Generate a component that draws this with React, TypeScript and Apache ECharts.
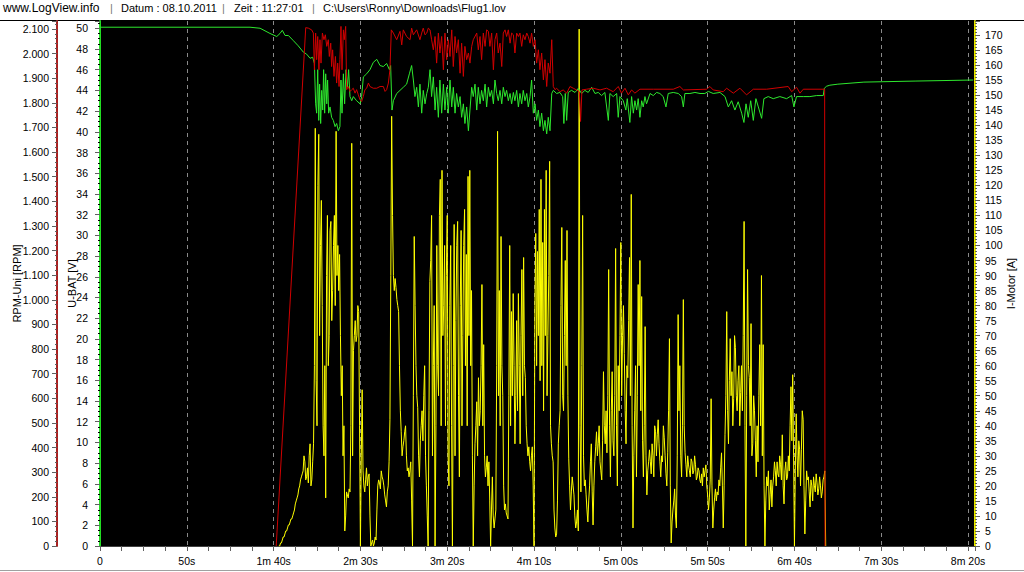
import React, { useEffect, useRef } from "react";
import * as echarts from "echarts";

// ---- header texts ----
const headerSite = "www.LogView.info";
const headerDate = "Datum : 08.10.2011";
const headerTime = "Zeit : 11:27:01";
const headerFile = "C:\\Users\\Ronny\\Downloads\\Flug1.lov";

// ---- axis names ----
const rpmName = "RPM-Uni [RPM]";
const voltName = "U-BAT [V]";
const currentName = "I-Motor [A]";

// ---- I-Motor [A], two readings per second starting at 103 s ----
const currentStart = 103;
const currentStep = 0.5;
const current = [
  0, 0, 1, 1, 2, 3, 3, 4, 5, 5, 6, 7, 7, 8, 9, 9, 10, 11, 12, 14,
  15, 16, 17, 19, 20, 22, 23, 24, 25, 30, 28, 22, 23, 26, 21, 30, 34, 20, 22, 28,
  34, 60, 139, 55, 40, 120, 137, 70, 100, 115, 80, 40, 30, 60, 16, 90, 110, 60, 70, 105,
  108, 75, 85, 100, 110, 80, 138, 90, 100, 85, 97, 70, 50, 60, 30, 40, 5, 10, 18, 17,
  16, 19, 18, 40, 134, 30, 65, 70, 75, 68, 70, 80, 78, 40, 0, 30, 52, 25, 20, 18,
  22, 26, 20, 23, 24, 10, 0, 1, 2, 0, 1, 3, 2, 12, 20, 22, 21, 19, 25, 23,
  22, 20, 17, 15, 13, 18, 20, 28, 42, 90, 143, 110, 90, 85, 89, 86, 82, 80, 78, 60,
  45, 38, 30, 33, 35, 38, 40, 30, 25, 26, 23, 25, 28, 15, 0, 50, 103, 80, 60, 50,
  46, 30, 23, 35, 40, 45, 35, 50, 60, 30, 20, 10, 0, 45, 88, 95, 110, 30, 60, 80,
  0, 40, 100, 60, 50, 110, 122, 40, 125, 70, 80, 100, 40, 90, 110, 30, 20, 80, 100, 40,
  0, 60, 107, 30, 75, 100, 108, 50, 23, 80, 105, 40, 70, 100, 112, 60, 97, 40, 123, 70,
  125, 60, 85, 30, 0, 20, 34, 40, 48, 30, 56, 40, 45, 60, 87, 40, 67, 30, 23, 26,
  30, 20, 28, 15, 0, 12, 23, 10, 6, 9, 12, 60, 138, 50, 85, 40, 103, 60, 50, 20,
  12, 14, 11, 10, 9, 50, 100, 40, 78, 50, 84, 60, 34, 50, 75, 45, 84, 60, 34, 70,
  92, 50, 96, 60, 56, 40, 34, 30, 33, 28, 25, 30, 33, 20, 0, 80, 104, 60, 98, 70,
  112, 55, 122, 60, 101, 45, 112, 70, 125, 50, 70, 90, 128, 40, 34, 30, 28, 12, 6, 3,
  4, 15, 34, 40, 45, 80, 106, 50, 45, 70, 95, 60, 105, 50, 29, 20, 12, 18, 23, 20,
  17, 10, 6, 8, 12, 5, 172, 40, 18, 60, 110, 30, 20, 22, 17, 12, 8, 15, 20, 28,
  34, 18, 7, 20, 28, 33, 38, 30, 34, 40, 28, 25, 22, 35, 58, 40, 34, 45, 31, 50,
  92, 40, 23, 45, 58, 35, 30, 50, 99, 40, 20, 60, 45, 70, 101, 50, 70, 80, 64, 45,
  34, 60, 56, 75, 96, 50, 117, 40, 6, 30, 45, 60, 23, 50, 87, 60, 95, 45, 83, 35,
  23, 40, 73, 30, 17, 25, 28, 32, 28, 24, 34, 30, 23, 40, 38, 30, 37, 42, 34, 28,
  23, 30, 28, 40, 36, 30, 24, 20, 31, 45, 69, 20, 1, 8, 12, 15, 19, 10, 6, 30,
  77, 45, 60, 30, 23, 40, 82, 40, 31, 27, 23, 30, 27, 25, 23, 29, 28, 24, 25, 30,
  27, 22, 23, 26, 25, 22, 21, 24, 20, 26, 23, 25, 27, 20, 17, 12, 16, 22, 49, 20,
  6, 12, 16, 19, 15, 18, 17, 22, 20, 26, 31, 20, 6, 20, 37, 50, 78, 45, 34, 55,
  69, 50, 58, 40, 49, 70, 66, 50, 45, 55, 60, 40, 51, 60, 45, 70, 108, 40, 0, 50,
  92, 60, 56, 40, 74, 30, 34, 50, 45, 35, 23, 40, 28, 50, 67, 40, 90, 30, 67, 20,
  0, 15, 23, 20, 25, 12, 17, 22, 13, 20, 23, 28, 25, 20, 28, 24, 23, 30, 27, 22,
  37, 20, 14, 25, 28, 22, 23, 30, 25, 40, 53, 35, 57, 30, 0, 25, 44, 30, 23, 35,
  32, 20, 32, 45, 42, 20, 4, 15, 25, 22, 23, 18, 13, 22, 20, 15, 23, 20, 18, 24,
  21, 17, 19, 23, 20, 16, 18, 22, 23, 25, 0,
];

// ---- U-BAT [V], [seconds, volts] ----
const voltage: [number, number][] = [
  [0, 50.1], [86.4, 50.1], [92.2, 50.0], [97.9, 49.5], [101.8, 49.2], [103.7, 49.5], [105.0, 49.8],
  [106.6, 49.3], [108.5, 49.3], [111.4, 48.8], [114.2, 48.3], [117.1, 47.7], [119.0, 47.5], [121.0, 47.1],
  [122.5, 47.2], [123.5, 46.6], [124.2, 42.7], [124.8, 41.8], [125.4, 46.0], [126.0, 41.1], [126.5, 44.6],
  [127.1, 40.8], [127.7, 44.0], [128.3, 42.1], [128.8, 46.0], [129.4, 41.8], [130.0, 45.6], [130.6, 42.7],
  [131.1, 45.0], [131.7, 41.8], [132.5, 42.4], [133.4, 41.4], [134.4, 41.1], [135.4, 40.5], [136.3, 40.8],
  [137.3, 40.1], [138.2, 40.5], [138.8, 45.0], [139.4, 41.8], [140.2, 45.6], [140.9, 42.7], [141.7, 46.0],
  [142.5, 44.3], [143.2, 46.0], [144.0, 43.4], [145.0, 43.0], [145.9, 43.4], [147.8, 43.0], [149.8, 42.7],
  [150.7, 43.4], [151.7, 45.3], [153.6, 45.6], [155.5, 46.0], [157.4, 46.7], [159.4, 47.0], [161.3, 46.4],
  [163.2, 46.3], [165.1, 46.6], [166.7, 46.0], [167.4, 46.4], [168.2, 42.1], [169.0, 43.0], [170.9, 43.7],
  [172.8, 44.0], [174.7, 44.3], [176.6, 44.6], [178.2, 45.6], [179.5, 46.4], [180.5, 45.0], [181.4, 43.4],
  [182.4, 44.3], [183.4, 42.4], [184.3, 44.6], [185.3, 41.8], [186.2, 44.0], [187.2, 42.7], [188.2, 43.7],
  [189.1, 44.3], [190.1, 46.0], [191.0, 43.4], [192.0, 45.3], [193.0, 42.1], [193.9, 44.3], [194.9, 41.4],
  [195.8, 45.0], [196.8, 41.8], [197.8, 44.6], [198.7, 42.1], [199.7, 44.3], [200.6, 41.8], [201.6, 45.0],
  [202.6, 42.4], [203.5, 44.3], [204.5, 41.8], [205.4, 43.7], [206.4, 42.4], [207.4, 43.4], [208.3, 41.4],
  [209.3, 42.7], [210.2, 40.8], [211.2, 42.4], [212.2, 40.1], [213.1, 42.1], [214.1, 44.3], [215.0, 43.4],
  [216.0, 44.6], [217.0, 42.1], [217.9, 44.3], [218.9, 42.7], [219.8, 44.0], [220.8, 43.0], [221.8, 44.6],
  [222.7, 42.4], [223.7, 44.3], [224.6, 43.4], [225.6, 44.0], [226.6, 42.7], [227.5, 45.0], [228.5, 43.7],
  [229.4, 43.0], [230.4, 44.0], [231.4, 42.7], [232.3, 44.3], [233.3, 43.4], [234.2, 44.0], [235.2, 43.0],
  [236.2, 43.7], [237.1, 42.7], [238.1, 43.8], [239.0, 43.0], [240.0, 44.0], [241.0, 42.4], [241.9, 43.7],
  [242.9, 42.7], [243.8, 44.0], [244.8, 43.0], [245.8, 43.7], [246.7, 42.4], [247.7, 43.4], [248.6, 45.0],
  [249.6, 41.8], [250.6, 42.7], [251.5, 41.1], [252.5, 42.1], [253.4, 40.5], [254.4, 41.8], [255.4, 40.1],
  [256.3, 41.1], [257.3, 39.8], [258.2, 41.4], [259.2, 40.1], [260.2, 43.7], [261.1, 44.0], [263.0, 43.7],
  [264.9, 43.8], [266.5, 43.4], [267.2, 40.8], [268.0, 43.7], [268.8, 41.1], [269.7, 43.8], [271.6, 44.0],
  [273.6, 43.8], [275.5, 44.2], [277.4, 43.7], [279.3, 44.0], [281.2, 43.8], [283.2, 44.3], [285.1, 43.7],
  [287.0, 43.8], [288.9, 43.5], [290.8, 43.8], [292.8, 41.1], [293.7, 43.7], [295.6, 43.4], [297.6, 43.7],
  [298.5, 41.4], [299.5, 43.4], [301.4, 43.0], [302.9, 42.1], [303.7, 43.2], [305.2, 40.9], [306.2, 43.4],
  [307.2, 41.8], [308.1, 43.0], [309.1, 42.1], [310.0, 43.2], [311.0, 41.4], [312.0, 43.0], [312.9, 42.4],
  [313.9, 43.4], [314.8, 42.7], [316.8, 43.7], [318.7, 43.5], [320.6, 43.8], [322.5, 43.7], [324.4, 43.4],
  [326.0, 42.4], [327.3, 43.7], [330.2, 43.8], [333.1, 43.7], [335.0, 43.4], [336.0, 42.4], [336.9, 43.7],
  [339.8, 43.7], [342.7, 43.8], [345.6, 43.7], [348.4, 43.7], [350.4, 43.9], [353.2, 43.7], [357.1, 43.8],
  [360.0, 43.4], [361.9, 42.4], [363.8, 43.0], [365.7, 42.1], [367.6, 42.9], [369.6, 41.8], [370.9, 40.9],
  [372.1, 42.7], [373.4, 41.4], [374.8, 43.0], [376.3, 41.1], [377.8, 43.2], [379.2, 42.4], [381.1, 41.3],
  [382.4, 43.2], [384.9, 43.4], [387.8, 43.2], [391.6, 43.4], [395.5, 43.2], [398.4, 43.5], [399.7, 42.4],
  [401.2, 43.4], [405.1, 43.4], [408.9, 43.4], [412.8, 43.5], [416.6, 43.5], [417.2, 44.2], [418.5, 44.4],
  [420.4, 44.5], [425, 44.6], [440, 44.8], [470, 44.9], [503, 45.0],
];

// ---- RPM-Uni [RPM], [seconds, rpm] ----
const rpm: [number, number][] = [
  [101.5, 0], [118.5, 2105], [120.0, 2103], [121.9, 2096], [122.9, 2083], [123.5, 1934], [124.2, 2083],
  [124.8, 1975], [125.4, 2069], [126.1, 1934], [126.7, 2056], [127.3, 1961], [128.1, 2083], [129.0, 2056],
  [129.8, 2076], [130.6, 2029], [131.5, 2056], [132.1, 1988], [132.9, 2042], [133.4, 1947], [134.0, 2015],
  [134.8, 1907], [135.6, 1988], [136.3, 1880], [136.9, 1961], [137.7, 1866], [138.2, 1975], [138.8, 2110],
  [139.4, 1934], [140.2, 2096], [140.7, 2056], [141.5, 2110], [142.1, 1853], [143.0, 1866], [144.0, 1846],
  [145.0, 1853], [145.9, 1859], [146.9, 1839], [147.8, 1853], [148.8, 1832], [149.8, 1812], [150.7, 1805],
  [151.7, 1826], [152.6, 1853], [153.6, 1859], [154.6, 1880], [155.5, 1866], [157.4, 1859], [159.4, 1859],
  [161.3, 1866], [163.2, 1866], [164.2, 1846], [165.1, 1853], [166.1, 1880], [167.0, 1934], [167.8, 2096],
  [169.0, 2083], [170.9, 2056], [172.8, 2090], [173.8, 2035], [174.7, 2096], [176.6, 2069], [178.6, 2056],
  [179.5, 2103], [180.5, 2076], [182.4, 2096], [184.3, 2056], [185.3, 2083], [186.2, 2103], [187.2, 2076],
  [188.2, 2083], [189.1, 2103], [190.1, 2096], [191.0, 2056], [192.0, 2015], [193.0, 2069], [193.9, 1961],
  [194.9, 2083], [195.8, 2002], [196.8, 2069], [197.8, 1934], [198.7, 2083], [199.7, 1975], [200.6, 2056],
  [201.6, 1988], [202.6, 2096], [203.5, 1947], [204.5, 2069], [205.4, 2002], [206.4, 2056], [207.4, 1920],
  [208.3, 2042], [209.3, 1907], [210.2, 2029], [211.2, 1975], [212.2, 2002], [213.1, 1961], [214.1, 2029],
  [215.0, 2056], [217.0, 2083], [217.9, 2015], [218.9, 2069], [219.8, 1975], [220.8, 2083], [221.8, 2029],
  [222.7, 2096], [223.7, 2090], [224.6, 2029], [225.6, 2083], [226.6, 1934], [227.5, 2056], [228.5, 2083],
  [229.4, 2002], [230.4, 2042], [231.4, 1947], [232.3, 2083], [233.3, 2096], [234.2, 2069], [235.2, 2096],
  [236.2, 2042], [237.1, 2083], [238.1, 2076], [239.0, 2002], [240.0, 2083], [241.0, 2069], [241.9, 2083],
  [242.9, 2029], [243.8, 2076], [244.8, 2056], [245.8, 2083], [246.7, 2069], [247.7, 2042], [248.6, 2083],
  [249.6, 2029], [250.6, 2056], [251.5, 1961], [252.5, 2015], [253.4, 1934], [254.4, 2002], [255.4, 1893],
  [256.3, 1975], [257.3, 1866], [258.2, 1961], [259.2, 1920], [260.2, 2056], [261.1, 1866], [262.1, 1853],
  [263.0, 1859], [264.9, 1845], [266.8, 1852], [268.8, 1839], [270.7, 1866], [272.6, 1859], [274.5, 1852],
  [276.1, 1845], [276.8, 1724], [277.6, 1852], [280.3, 1855], [284.1, 1859], [288.0, 1852], [291.8, 1859],
  [295.6, 1845], [298.5, 1866], [300.4, 1839], [302.4, 1859], [304.3, 1832], [306.2, 1852], [308.1, 1839],
  [311.0, 1855], [318.7, 1855], [330.2, 1855], [334.0, 1866], [336.0, 1852], [349.4, 1855], [351.3, 1866],
  [353.2, 1852], [359.0, 1845], [360.9, 1859], [364.8, 1839], [368.6, 1859], [372.4, 1832], [376.3, 1855],
  [384.0, 1855], [396.4, 1866], [398.4, 1845], [401.2, 1863], [403.2, 1839], [405.1, 1855], [417.4, 1855],
  [417.6, 0],
];

// ---- axis ranges / tick steps ----
const timeMax = 504;
const timeStep = 50;
const voltMax = 50.7;
const voltStep = 2;
const rpmMax = 2132;
const rpmStep = 100;
const currentMax = 174.7;
const currentTickStep = 5;

const FONT = "'Liberation Sans', Arial, sans-serif";

function fmtTime(v: number): string {
  if (Math.abs(v % timeStep) > 1e-6) return "";
  if (v === 0) return "0";
  const m = Math.floor(v / 60);
  const s = Math.round(v - m * 60);
  if (m === 0) return `${s}s`;
  return `${m}m ${String(s).padStart(2, "0")}s`;
}

function fmtRpm(v: number): string {
  if (Math.abs(v % rpmStep) > 1e-6) return "";
  if (v >= 1000) {
    return `${Math.floor(v / 1000)}.${String(Math.round(v % 1000)).padStart(3, "0")}`;
  }
  return String(v);
}

function fmtStep(step: number) {
  return (v: number) => (Math.abs(v % step) > 1e-6 ? "" : String(Math.round(v)));
}

export default function App() {
  const ref = useRef<HTMLDivElement>(null);

  useEffect(() => {
    if (!ref.current) return;
    const chart = echarts.init(ref.current, null, { renderer: "svg" });

    const currentData = current.map((v, i) => [currentStart + i * currentStep, v]);
    const labelStyle = { color: "#000", fontSize: 10.5, fontFamily: FONT };
    const nameStyle = { color: "#000", fontSize: 11, fontFamily: FONT };
    const tickGray = "#606060";

    const option: any = {
      animation: false,
      backgroundColor: "#ffffff",
      textStyle: { fontFamily: FONT },
      grid: {
        left: 100,
        right: 49,
        top: 21,
        bottom: 26,
        show: true,
        backgroundColor: "#000000",
        borderWidth: 0,
        containLabel: false,
        outerBoundsMode: "none",
      },
      graphic: [
        { type: "text", left: 3, top: 2, style: { text: headerSite, fill: "#000", font: `12px ${FONT}` } },
        { type: "text", left: 110, top: 2, style: { text: "|", fill: "#777", font: `11px ${FONT}` } },
        { type: "text", left: 121, top: 2, style: { text: headerDate, fill: "#000", font: `11px ${FONT}` } },
        { type: "text", left: 222, top: 2, style: { text: "|", fill: "#777", font: `11px ${FONT}` } },
        { type: "text", left: 234, top: 2, style: { text: headerTime, fill: "#000", font: `11px ${FONT}` } },
        { type: "text", left: 312, top: 2, style: { text: "|", fill: "#777", font: `11px ${FONT}` } },
        { type: "text", left: 323, top: 2, style: { text: headerFile, fill: "#000", font: `11px ${FONT}` } },
        {
          type: "line",
          shape: { x1: 0, y1: 20.5, x2: 1024, y2: 20.5 },
          style: { stroke: "#000", lineWidth: 1 },
        },
        {
          type: "line",
          shape: { x1: 0, y1: 570.5, x2: 1024, y2: 570.5 },
          style: { stroke: "#a0a0a0", lineWidth: 1 },
        },
      ],
      xAxis: {
        type: "value",
        min: 0,
        max: timeMax,
        interval: timeStep,
        axisLine: { show: true, onZero: false, lineStyle: { color: "#404040", width: 1 } },
        axisTick: { show: true, length: 5, lineStyle: { color: tickGray } },
        minorTick: { show: true, splitNumber: 4, length: 5, lineStyle: { color: tickGray } },
        axisLabel: { ...labelStyle, margin: 9, formatter: fmtTime, showMaxLabel: false },
        splitLine: { show: true, lineStyle: { color: "#8a8a8a", type: [4, 4], width: 1 } },
        minorSplitLine: { show: false },
      },
      yAxis: [
        {
          type: "value",
          position: "left",
          offset: 0,
          min: 0,
          max: voltMax,
          interval: voltStep,
          name: voltName,
          nameLocation: "middle",
          nameGap: 23,
          nameRotate: 90,
          nameMoveOverlap: false,
          nameTextStyle: { ...nameStyle },
          axisLine: { show: true, onZero: false, lineStyle: { color: "#22dd22", width: 2 } },
          axisTick: { show: true, length: 5, lineStyle: { color: tickGray } },
          minorTick: { show: true, splitNumber: 4, length: 2, lineStyle: { color: "#000" } },
          axisLabel: { ...labelStyle, margin: 12, formatter: fmtStep(voltStep) },
          splitLine: { show: false },
        },
        {
          type: "value",
          position: "left",
          offset: 43,
          min: 0,
          max: rpmMax,
          interval: rpmStep,
          name: rpmName,
          nameLocation: "middle",
          nameGap: 35,
          nameRotate: 90,
          nameMoveOverlap: false,
          nameTextStyle: { ...nameStyle },
          axisLine: { show: true, onZero: false, lineStyle: { color: "#a82020", width: 2 } },
          axisTick: { show: true, length: 5, lineStyle: { color: tickGray } },
          minorTick: { show: true, splitNumber: 5, length: 2, lineStyle: { color: tickGray } },
          axisLabel: { ...labelStyle, margin: 8, formatter: fmtRpm },
          splitLine: { show: false },
        },
        {
          type: "value",
          position: "right",
          offset: 0,
          min: 0,
          max: currentMax,
          interval: currentTickStep,
          name: currentName,
          nameLocation: "middle",
          nameGap: 30,
          nameRotate: 90,
          nameMoveOverlap: false,
          nameTextStyle: { ...nameStyle },
          axisLine: { show: true, onZero: false, lineStyle: { color: "#e8e800", width: 2 } },
          axisTick: { show: true, length: 5, lineStyle: { color: tickGray } },
          minorTick: { show: true, splitNumber: 5, length: 2, lineStyle: { color: tickGray } },
          axisLabel: { ...labelStyle, margin: 10, formatter: fmtStep(currentTickStep) },
          splitLine: { show: false },
        },
      ],
      series: [
        {
          type: "line",
          name: currentName,
          yAxisIndex: 2,
          data: currentData,
          symbol: "none",
          showSymbol: false,
          lineStyle: { color: "#ffff00", width: 1 },
          z: 2,
        },
        {
          type: "line",
          name: voltName,
          yAxisIndex: 0,
          data: voltage,
          symbol: "none",
          showSymbol: false,
          lineStyle: { color: "#2ee82e", width: 1 },
          z: 3,
        },
        {
          type: "line",
          name: rpmName,
          yAxisIndex: 1,
          data: rpm,
          symbol: "none",
          showSymbol: false,
          lineStyle: { color: "#d00000", width: 1 },
          z: 4,
        },
      ],
    };

    chart.setOption(option);
    return () => chart.dispose();
  }, []);

  return (
    <div
      ref={ref}
      style={{ position: "fixed", left: 0, top: 0, width: 1024, height: 572, background: "#fff" }}
    />
  );
}
